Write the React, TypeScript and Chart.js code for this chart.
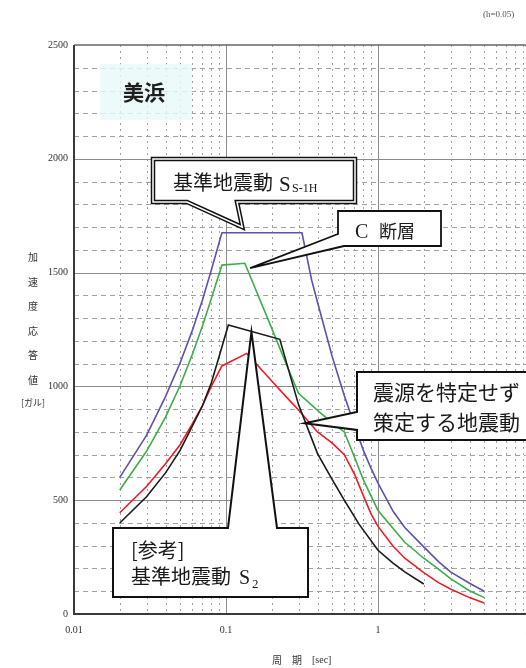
import React, { useEffect, useRef } from "react";
import { Chart, registerables } from "chart.js";

Chart.register(...registerables);

// Response spectra (h = 0.05), period [s] vs acceleration [gal]
const ssPeriods = [0.02, 0.03, 0.04, 0.05, 0.06, 0.07, 0.08, 0.094, 0.316, 0.366, 0.4, 0.5, 0.6, 0.7, 0.8, 0.9, 1.0, 1.26, 1.5, 2.0, 2.5, 3.0, 4.0, 5.0];
const ssAccel = [600, 785, 955, 1105, 1245, 1380, 1510, 1675, 1675, 1467, 1370, 1130, 960, 830, 720, 640, 575, 450, 380, 295, 230, 185, 135, 100];

const cFaultPeriods = [0.02, 0.03, 0.04, 0.05, 0.06, 0.07, 0.08, 0.094, 0.133, 0.2, 0.25, 0.3, 0.4, 0.5, 0.6, 0.7, 0.8, 1.0, 1.5, 2.0, 2.5, 3.0, 4.0, 5.0];
const cFaultAccel = [545, 715, 865, 1005, 1140, 1265, 1385, 1533, 1541, 1255, 1095, 970, 895, 840, 800, 690, 590, 455, 315, 245, 197, 155, 102, 72];

const unspecPeriods = [0.02, 0.03, 0.04, 0.05, 0.06, 0.07, 0.08, 0.094, 0.137, 0.2, 0.25, 0.3, 0.4, 0.5, 0.6, 0.7, 0.8, 0.9, 1.0, 1.25, 1.5, 2.0, 2.5, 3.0, 4.0, 5.0];
const unspecAccel = [445, 560, 660, 745, 835, 915, 1000, 1090, 1145, 1024, 953, 896, 800, 751, 700, 615, 520, 440, 385, 300, 245, 182, 138, 110, 72, 48];

const s2Periods = [0.02, 0.03, 0.04, 0.05, 0.06, 0.07, 0.08, 0.09, 0.1036, 0.226, 0.3, 0.4, 0.5, 0.6, 0.75, 1.0, 1.25, 1.5, 2.0];
const s2Accel = [400, 515, 620, 720, 825, 915, 1015, 1130, 1270, 1207, 920, 705, 590, 500, 395, 280, 225, 185, 132];

// Axis ticks
const xDecades = [0.01, 0.1, 1, 10];
const xTickLabels = ["0.01", "0.1", "1", "10"];
const yTickValues = [0, 500, 1000, 1500, 2000, 2500];

// Callout anchor points [period, accel]
const ssTip = [0.128, 1700];
const cFaultTip = [0.144, 1520];
const unspecTip = [0.33, 838];
const s2Tip = [0.147, 1240];

const JP = "'Noto Sans CJK JP', 'Noto Sans CJK SC', sans-serif";
const SERIF = "'Liberation Serif', 'DejaVu Serif', serif";

const pairs = (xs: number[], ys: number[]) => xs.map((x, i) => ({ x, y: ys[i] }));

type Pt = [number, number];

function tracePolygon(ctx: CanvasRenderingContext2D, pts: Pt[]) {
  ctx.beginPath();
  ctx.moveTo(pts[0][0], pts[0][1]);
  for (let i = 1; i < pts.length; i++) ctx.lineTo(pts[i][0], pts[i][1]);
  ctx.closePath();
}

const gridPlugin = {
  id: "spectrumGrid",
  beforeDatasetsDraw(chart: any) {
    const { ctx, chartArea: a, scales } = chart;
    const xs = scales.x;
    const ys = scales.y;
    const hLine = (py: number) => {
      ctx.beginPath();
      ctx.moveTo(a.left, py);
      ctx.lineTo(a.right, py);
      ctx.stroke();
    };
    const vLine = (px: number) => {
      ctx.beginPath();
      ctx.moveTo(px, a.top);
      ctx.lineTo(px, a.bottom);
      ctx.stroke();
    };
    ctx.save();
    ctx.lineWidth = 1;
    // minor horizontal lines every 100 gal
    ctx.strokeStyle = "#a2a2a2";
    ctx.setLineDash([5, 4]);
    for (let v = 100; v < 2500; v += 100) {
      if (v % 500 === 0) continue;
      hLine(Math.round(ys.getPixelForValue(v)) + 0.5);
    }
    // minor vertical lines 2..9 per decade
    ctx.setLineDash([2, 4]);
    for (const d of [0.01, 0.1, 1]) {
      for (let m = 2; m <= 9; m++) vLine(Math.round(xs.getPixelForValue(d * m)) + 0.5);
    }
    // major lines
    ctx.setLineDash([]);
    ctx.strokeStyle = "#8c8c8c";
    for (const v of [500, 1000, 1500, 2000]) hLine(Math.round(ys.getPixelForValue(v)) + 0.5);
    for (const v of [0.1, 1]) vLine(Math.round(xs.getPixelForValue(v)) + 0.5);
    // frame
    ctx.strokeStyle = "#666";
    ctx.lineWidth = 1.5;
    hLine(a.top);
    ctx.strokeStyle = "#3a3a3a";
    ctx.lineWidth = 2;
    ctx.beginPath();
    ctx.moveTo(a.left, a.top);
    ctx.lineTo(a.left, a.bottom);
    ctx.lineTo(a.right, a.bottom);
    ctx.stroke();
    ctx.restore();
  },
};

const notesPlugin = {
  id: "spectrumNotes",
  afterDatasetsDraw(chart: any) {
    const { ctx, scales } = chart;
    const xs = scales.x;
    const ys = scales.y;
    const tip = (p: number[]): Pt => [xs.getPixelForValue(p[0]), ys.getPixelForValue(p[1])];

    ctx.save();

    // site name panel
    ctx.fillStyle = "rgba(232, 249, 249, 0.8)";
    ctx.fillRect(100, 64, 92, 56);
    ctx.fillStyle = "#1e1e1e";
    ctx.font = `bold 21px ${JP}`;
    ctx.textAlign = "left";
    ctx.textBaseline = "alphabetic";
    ctx.fillText("美浜", 123, 100);

    const fillStroke = (pts: Pt[], width: number, double: boolean) => {
      tracePolygon(ctx, pts);
      ctx.fillStyle = "#fff";
      ctx.fill();
      ctx.lineJoin = "miter";
      if (double) {
        ctx.strokeStyle = "#111";
        ctx.lineWidth = 4.5;
        ctx.stroke();
        ctx.strokeStyle = "#fff";
        ctx.lineWidth = 1.5;
        ctx.stroke();
      } else {
        ctx.strokeStyle = "#111";
        ctx.lineWidth = width;
        ctx.stroke();
      }
    };

    // Ss-1H callout
    {
      const L = 153, T = 159, R = 355, B = 202;
      fillStroke([[L, T], [R, T], [R, B], [237, B], tip(ssTip), [187, B], [L, B]], 2, true);
      ctx.fillStyle = "#1a1a1a";
      ctx.font = `20px ${JP}`;
      ctx.fillText("基準地震動", 173, 190);
      ctx.font = `21px ${SERIF}`;
      ctx.fillText("S", 279, 191);
      ctx.font = `12px ${SERIF}`;
      ctx.fillText("S-1H", 292, 192);
    }

    // C fault callout
    {
      const L = 338, T = 211, R = 441, B = 246;
      fillStroke([[L, T], [R, T], [R, B], [L + 6, B], tip(cFaultTip), [L, 234]], 1.8, false);
      ctx.fillStyle = "#1a1a1a";
      ctx.font = `20px ${SERIF}`;
      ctx.fillText("C", 355, 238);
      ctx.font = `18px ${JP}`;
      ctx.fillText("断層", 379, 238);
    }

    // unspecified-source callout
    {
      const L = 357, T = 372, R = 560, B = 440;
      fillStroke([[L, T], [R, T], [R, B], [L, B], [L, 430], tip(unspecTip), [L, 412]], 2, false);
      ctx.fillStyle = "#1a1a1a";
      ctx.font = `21px ${JP}`;
      ctx.fillText("震源を特定せず", 373, 400);
      ctx.fillText("策定する地震動", 373, 430);
    }

    // reference S2 callout
    {
      const L = 113, T = 528, R = 308, B = 597;
      fillStroke([[L, T], [228, T], tip(s2Tip), [277, T], [R, T], [R, B], [L, B]], 2, false);
      ctx.fillStyle = "#1a1a1a";
      ctx.font = `20px ${JP}`;
      ctx.fillText("[参考]", 131, 558);
      ctx.fillText("基準地震動", 131, 584);
      ctx.font = `20px ${SERIF}`;
      ctx.fillText("S", 239, 584);
      ctx.font = `13px ${SERIF}`;
      ctx.fillText("2", 252, 588);
    }

    ctx.restore();
  },
  afterDraw(chart: any) {
    const { ctx } = chart;
    ctx.save();
    ctx.fillStyle = "#333";
    ctx.textBaseline = "middle";
    ctx.textAlign = "center";
    // y-axis title, stacked vertically
    ctx.font = `10px ${JP}`;
    const yChars = ["加", "速", "度", "応", "答", "値"];
    const yPos = [257, 282, 306, 331, 355, 380];
    yChars.forEach((c, i) => ctx.fillText(c, 33, yPos[i]));
    ctx.font = `9px ${JP}`;
    ctx.fillText("[ガル]", 33, 403);
    // x-axis title
    ctx.font = `10px ${JP}`;
    ctx.fillText("周", 277, 660);
    ctx.fillText("期", 297, 660);
    ctx.font = `10px ${SERIF}`;
    ctx.textAlign = "left";
    ctx.fillText("[sec]", 312, 660);
    // damping note
    ctx.fillStyle = "#555";
    ctx.font = `9px ${SERIF}`;
    ctx.fillText("(h=0.05)", 483, 15);
    ctx.restore();
  },
};

export default function App() {
  const canvasRef = useRef<HTMLCanvasElement | null>(null);

  useEffect(() => {
    const canvas = canvasRef.current;
    if (!canvas) return;
    const tickFont = { family: SERIF, size: 10 };
    const line = (data: { x: number; y: number }[], color: string) => ({
      data,
      borderColor: color,
      borderWidth: 1.6,
      pointRadius: 0,
      tension: 0,
      fill: false,
    });
    const chart = new Chart(canvas, {
      type: "line",
      data: {
        datasets: [
          line(pairs(s2Periods, s2Accel), "#1a1a1a"),
          line(pairs(unspecPeriods, unspecAccel), "#ee1c25"),
          line(pairs(cFaultPeriods, cFaultAccel), "#3cae48"),
          line(pairs(ssPeriods, ssAccel), "#5a52b2"),
        ],
      },
      options: {
        animation: false,
        responsive: false,
        events: [],
        layout: { padding: { top: 45, right: 15, left: 0, bottom: 0 } },
        plugins: { legend: { display: false }, tooltip: { enabled: false } },
        scales: {
          x: {
            type: "logarithmic",
            min: 0.01,
            max: 10,
            grid: { display: false, drawTicks: false },
            border: { display: false },
            afterBuildTicks: (s: any) => {
              s.ticks = xDecades.map((v) => ({ value: v }));
            },
            afterFit: (s: any) => {
              s.height = 54;
            },
            ticks: {
              autoSkip: false,
              maxRotation: 0,
              padding: 10,
              color: "#333",
              font: tickFont,
              callback: (_v: any, i: number) => xTickLabels[i],
            },
          },
          y: {
            type: "linear",
            min: 0,
            max: 2500,
            grid: { display: false, drawTicks: false },
            border: { display: false },
            afterBuildTicks: (s: any) => {
              s.ticks = yTickValues.map((v) => ({ value: v }));
            },
            afterFit: (s: any) => {
              s.width = 74;
            },
            ticks: {
              padding: 6,
              color: "#333",
              font: tickFont,
              callback: (v: any) => String(v),
            },
          },
        },
      } as any,
      plugins: [gridPlugin, notesPlugin],
    });
    return () => chart.destroy();
  }, []);

  return (
    <div
      style={{
        position: "fixed",
        left: 0,
        top: 0,
        width: 526,
        height: 668,
        overflow: "hidden",
        background: "#fff",
      }}
    >
      <canvas ref={canvasRef} width={545} height={668} style={{ display: "block", width: 545, height: 668 }} />
    </div>
  );
}
